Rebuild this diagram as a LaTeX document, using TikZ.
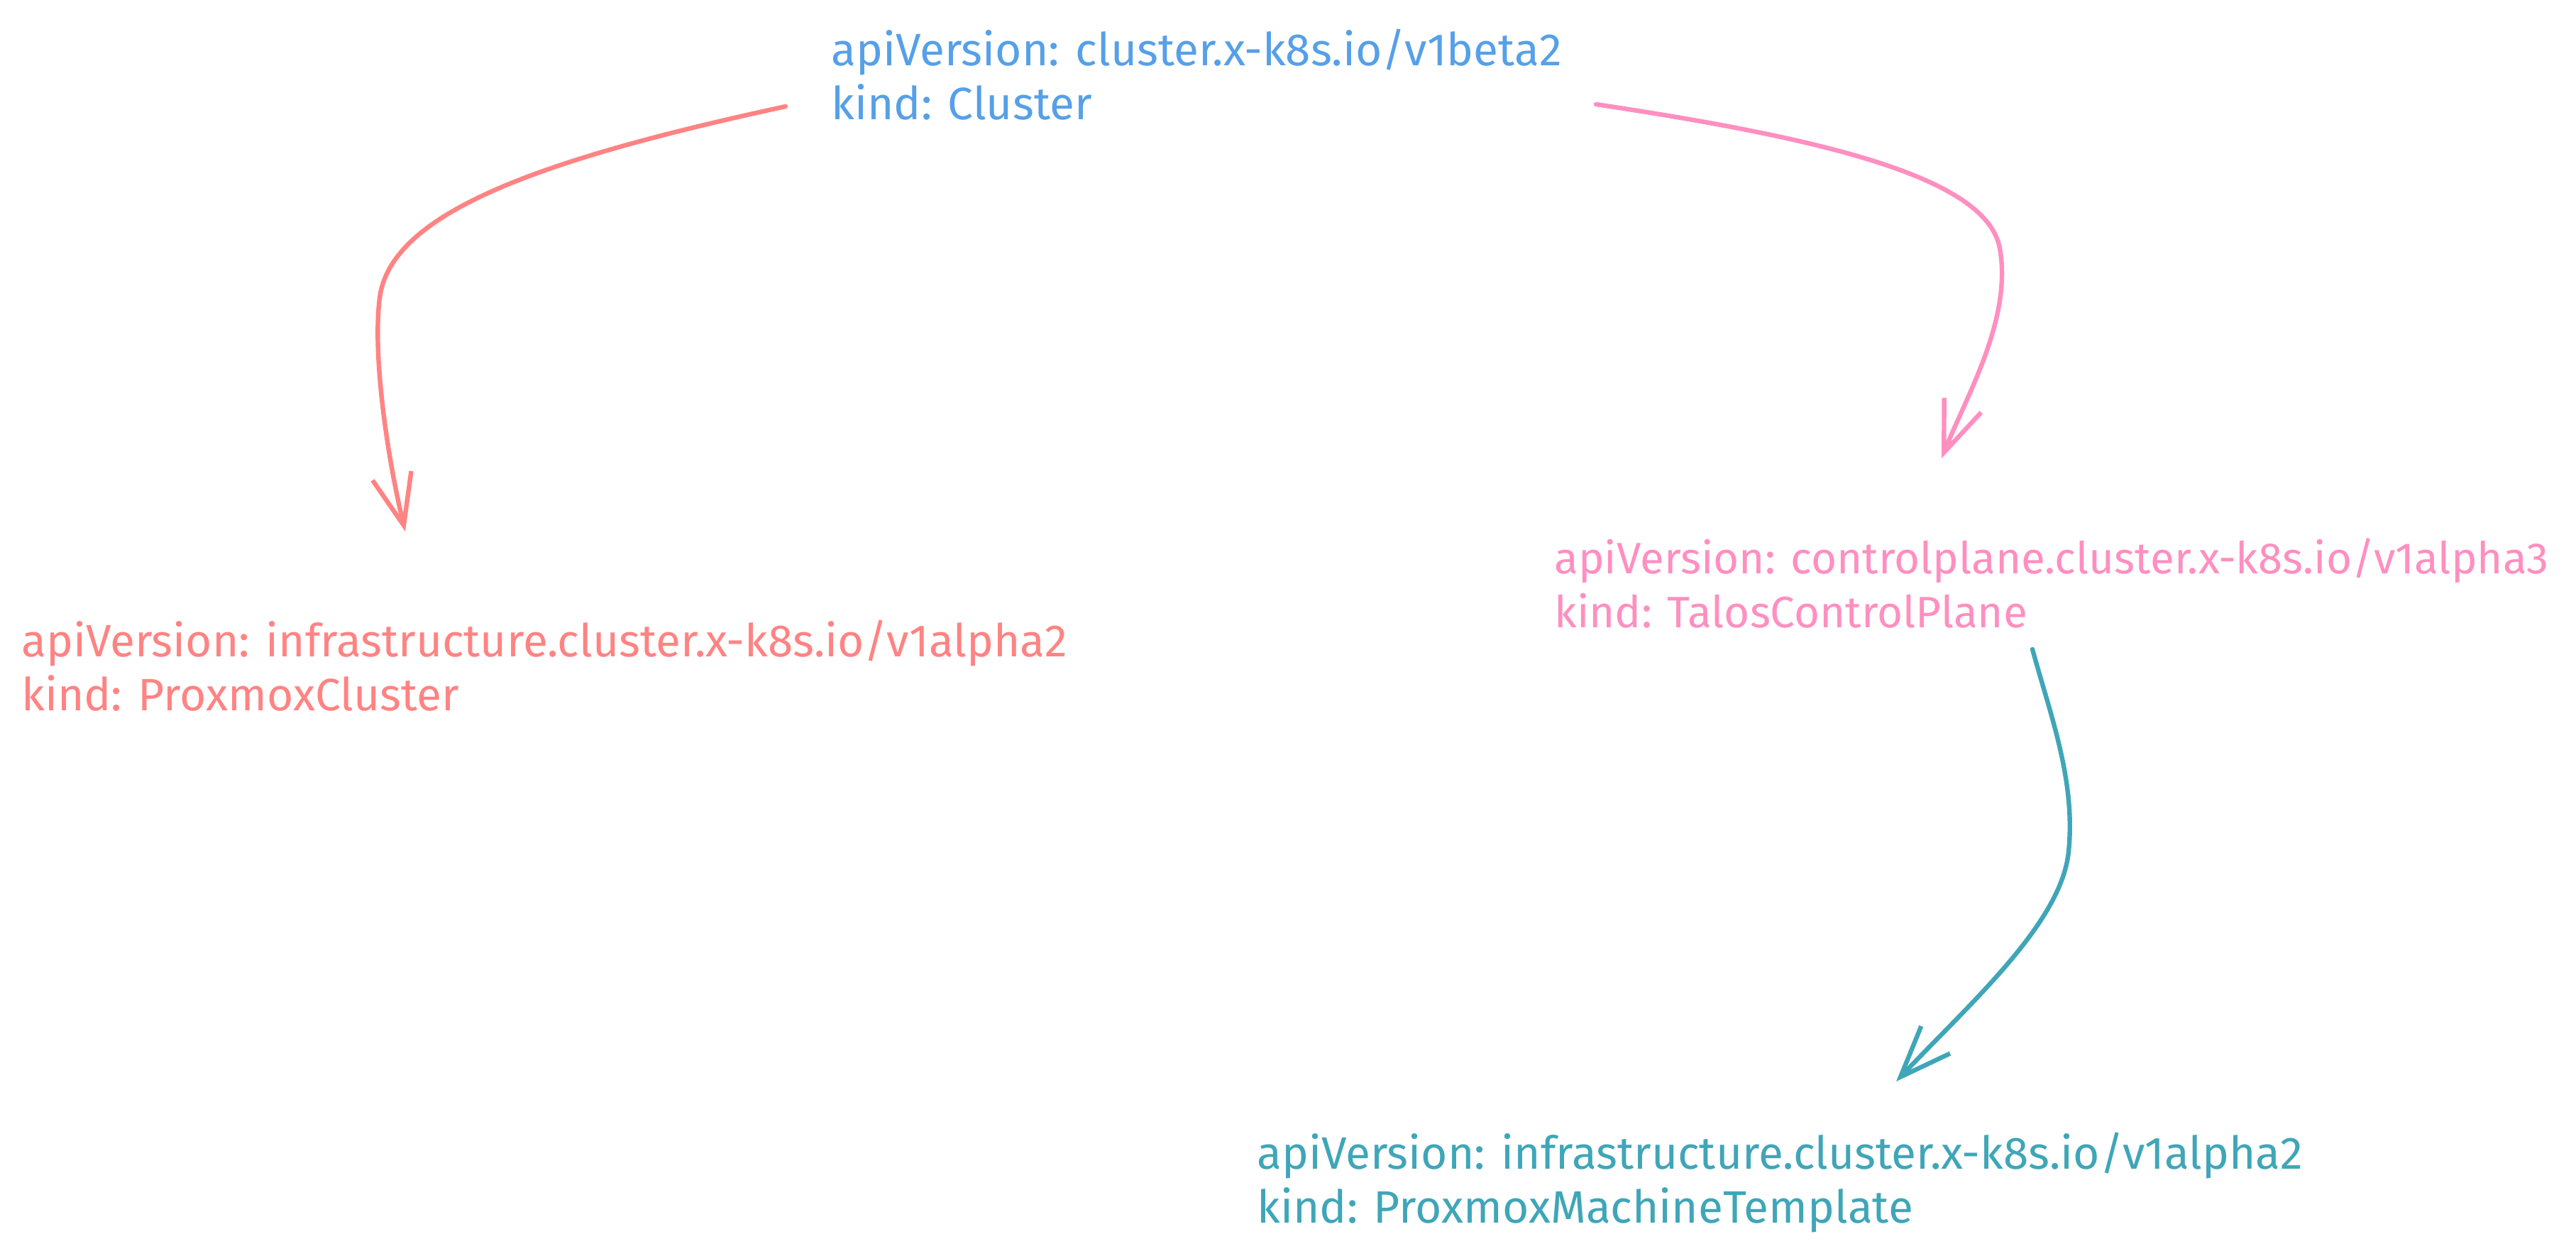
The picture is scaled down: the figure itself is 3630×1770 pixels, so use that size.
\documentclass[tikz,border=0pt]{standalone}
\usepackage{fontspec}
\setmainfont{Fira Sans}
\usetikzlibrary{arrows.meta,positioning}
\definecolor{clusterblue}{HTML}{56A0E8}
\definecolor{infrared}{HTML}{FF8383}
\definecolor{cppink}{HTML}{FF8FC0}
\definecolor{machteal}{HTML}{3FA6B8}

\begin{document}
\begin{tikzpicture}[x=0.5pt, y=-0.5pt,
    manifest/.style={anchor=north west, inner sep=0pt, align=left, font=\fontsize{32pt}{38pt}\selectfont},
    link/.style={line width=3.2pt, line cap=round, line join=round, -{Straight Barb[length=36pt, width=28pt]}}]
    \useasboundingbox (0,0) rectangle (3630,1770);
    \node[manifest, text=clusterblue] (cluster) at (1171,40) {apiVersion: cluster.x-k8s.io/v1beta2\\kind: Cluster};
    \node[manifest, text=infrared] (pxcluster) at (30,873) {apiVersion: infrastructure.cluster.x-k8s.io/v1alpha2\\kind: ProxmoxCluster};
    \node[manifest, text=cppink, font=\fontsize{31pt}{38pt}\selectfont] (talos) at (2190,758) {apiVersion: controlplane.cluster.x-k8s.io/v1alpha3\\kind: TalosControlPlane};
    \node[manifest, text=machteal] (pxmt) at (1771,1595) {apiVersion: infrastructure.cluster.x-k8s.io/v1alpha2\\kind: ProxmoxMachineTemplate};
    \draw[link, infrared] ([shift={(-64,110)}]cluster.north west) .. controls +(-347,75) and +(15,-120) .. (535,420)
        .. controls +(-10,80) and +(-26,-109) .. ([shift={(541,-124)}]pxcluster.north west);
    \draw[link, cppink] ([shift={(1078,107)}]cluster.north west) .. controls +(320,48) and +(-18,-100) .. (2818,350)
        .. controls +(18,100) and +(34,-86) .. ([shift={(546,-112)}]talos.north west);
    \draw[link, machteal] ([shift={(674,157)}]talos.north west) .. controls +(26,95) and +(10,-100) .. (2915,1200)
        .. controls +(-10,100) and +(108,-114) .. ([shift={(901,-71)}]pxmt.north west);
\end{tikzpicture}
\end{document}
